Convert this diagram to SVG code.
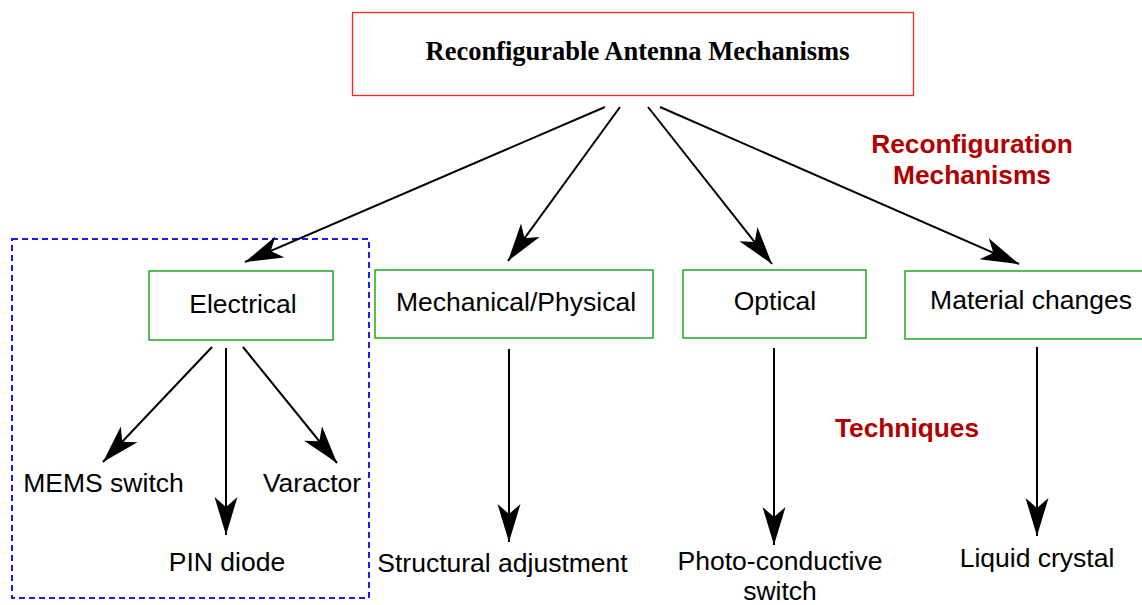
<svg xmlns="http://www.w3.org/2000/svg" width="1142" height="605" viewBox="0 0 1142 605">
<style>
.lbl{font-family:"Liberation Sans",Arial,sans-serif;font-size:26.5px;fill:#000;text-anchor:middle}
.red{font-family:"Liberation Sans",Arial,sans-serif;font-size:26.3px;font-weight:bold;fill:#b20000;text-anchor:middle}
.box{fill:#fff;stroke:#22a822;stroke-width:1.5}
.edge{fill:none;stroke:#000;stroke-width:2;marker-end:url(#arr)}
</style>
<defs>
<marker id="arr" markerUnits="userSpaceOnUse" markerWidth="42" markerHeight="26" viewBox="0 0 42 26" refX="38" refY="12" orient="auto">
<path d="M38,12 L0,0.5 L10,12 L0,23.5 Z" fill="#000"/>
</marker>
</defs>
<rect width="1142" height="605" fill="#fff"/>
<g id="group-electrical">
<rect x="12" y="239" width="357" height="359" fill="none" stroke="#1a1ae6" stroke-width="2" stroke-dasharray="6 4"/>
</g>
<g id="root">
<rect x="352.5" y="12.5" width="561" height="83" fill="#fff" stroke="#f22" stroke-width="1.3"/>
<text x="637.5" y="60" font-family="'Liberation Serif','Times New Roman',serif" font-size="26.5" font-weight="bold" text-anchor="middle">Reconfigurable Antenna Mechanisms</text>
</g>
<g id="electrical">
<rect class="box" x="149" y="271" width="184" height="69"/>
<text class="lbl" x="243" y="313">Electrical</text>
</g>
<g id="mechanical">
<rect class="box" x="375" y="270" width="278" height="68"/>
<text class="lbl" x="516" y="311">Mechanical/Physical</text>
</g>
<g id="optical">
<rect class="box" x="683" y="270" width="183" height="68"/>
<text class="lbl" x="775" y="310">Optical</text>
</g>
<g id="material">
<rect class="box" x="905" y="271" width="252" height="68"/>
<text class="lbl" x="1031" y="309">Material changes</text>
</g>
<g id="mems"><text class="lbl" x="103.5" y="492">MEMS switch</text></g>
<g id="pin"><text class="lbl" x="227" y="571">PIN diode</text></g>
<g id="varactor"><text class="lbl" x="312" y="492">Varactor</text></g>
<g id="structural"><text class="lbl" x="502.5" y="572">Structural adjustment</text></g>
<g id="photo"><text class="lbl" x="780" y="570">Photo-conductive<tspan x="780" y="600">switch</tspan></text></g>
<g id="liquid"><text class="lbl" x="1037" y="567">Liquid crystal</text></g>
<g id="label-reconf"><text class="red" x="972" y="153">Reconfiguration<tspan x="972" y="184">Mechanisms</tspan></text></g>
<g id="label-tech"><text class="red" x="907" y="437">Techniques</text></g>
<g id="connectors">
<path class="edge" d="M605,107 L245,262"/>
<path class="edge" d="M620,107 L508,261"/>
<path class="edge" d="M648,107 L772,264"/>
<path class="edge" d="M660,107 L1019,264"/>
<path class="edge" d="M212,347 L103,462"/>
<path class="edge" d="M226,348 L226,535"/>
<path class="edge" d="M243,347 L337,463"/>
<path class="edge" d="M509,349 L509,542"/>
<path class="edge" d="M774,348 L774,545"/>
<path class="edge" d="M1037,347 L1037,536"/>
</g>
</svg>
